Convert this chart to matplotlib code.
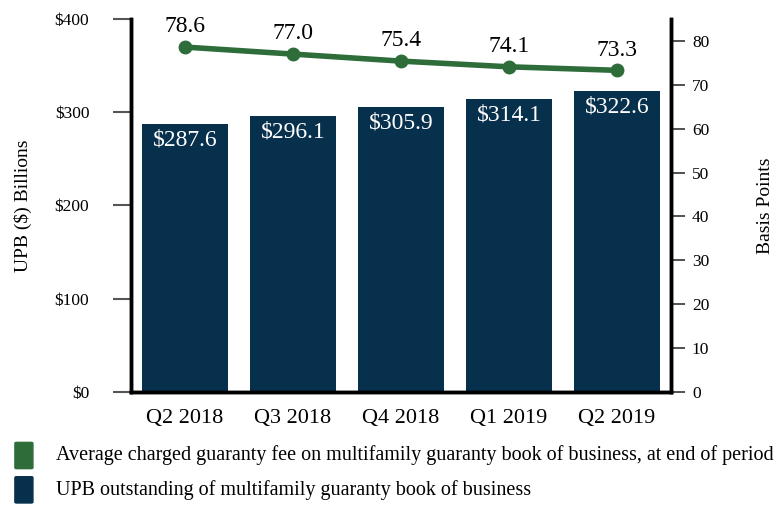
import matplotlib.pyplot as plt
from matplotlib.patches import FancyBboxPatch

plt.rcParams['font.family'] = ['Liberation Serif', 'DejaVu Serif']

quarters = ["Q2 2018", "Q3 2018", "Q4 2018", "Q1 2019", "Q2 2019"]
upb = [287.6, 296.1, 305.9, 314.1, 322.6]
fee_bps = [78.6, 77.0, 75.4, 74.1, 73.3]
left_ticks = [0, 100, 200, 300, 400]
right_ticks = [0, 10, 20, 30, 40, 50, 60, 70, 80]

bar_color = "#07304c"
line_color = "#2e6d3a"

fig = plt.figure(figsize=(7.84, 5.05), dpi=100)
ax = fig.add_axes([0.167, 0.2238, 0.689, 0.7386])
ax2 = ax.twinx()

x = list(range(len(quarters)))
bars = ax.bar(x, upb, width=0.8, color=bar_color)
for xi, v in zip(x, upb):
    ax.text(xi, v - 6, f"${v:.1f}", ha="center", va="top", color="white", fontsize=17)

ax2.plot(x, fee_bps, color=line_color, lw=4, marker="o", ms=9, solid_capstyle="round")
for xi, v in zip(x, fee_bps):
    ax2.text(xi, v + 2.2, f"{v:.1f}", ha="center", va="bottom", color="black", fontsize=17)

ax.set_xlim(-0.5, 4.5)
ax.set_ylim(0, 400)
ax2.set_ylim(0, 85)
ax.set_yticks(left_ticks)
ax.set_yticklabels([f"${t}" for t in left_ticks], fontsize=12.5)
ax2.set_yticks(right_ticks)
ax2.set_yticklabels([str(t) for t in right_ticks], fontsize=12.5)
ax.set_xticks(x)
ax.set_xticklabels(quarters, fontsize=16)
ax.tick_params(axis="x", length=0, pad=12)
ax.tick_params(axis="y", length=13, width=1.5, color="#555555", pad=17)
ax2.tick_params(axis="y", length=10, width=1.2, color="#333333", pad=5)

for a in (ax, ax2):
    a.spines["top"].set_visible(False)
    for s in ("left", "right", "bottom"):
        a.spines[s].set_linewidth(2.5)
        a.spines[s].set_color("black")

ax.set_ylabel("UPB ($) Billions", fontsize=14, labelpad=16)
ax2.set_ylabel("Basis Points", fontsize=14, labelpad=34)

# legend drawn as boxes + text below the axes
for yb, col, label in [
    (0.068, line_color, "Average charged guaranty fee on multifamily guaranty book of business, at end of period"),
    (0.0, bar_color, "UPB outstanding of multifamily guaranty book of business"),
]:
    fig.patches.append(FancyBboxPatch((0.019, yb + 0.004), 0.023, 0.052,
                                      boxstyle="round,pad=0,rounding_size=0.002",
                                      transform=fig.transFigure, color=col))
    fig.text(0.072, yb + 0.03, label, fontsize=14.5, va="center", ha="left")

fig.savefig("out.png", dpi=100)
